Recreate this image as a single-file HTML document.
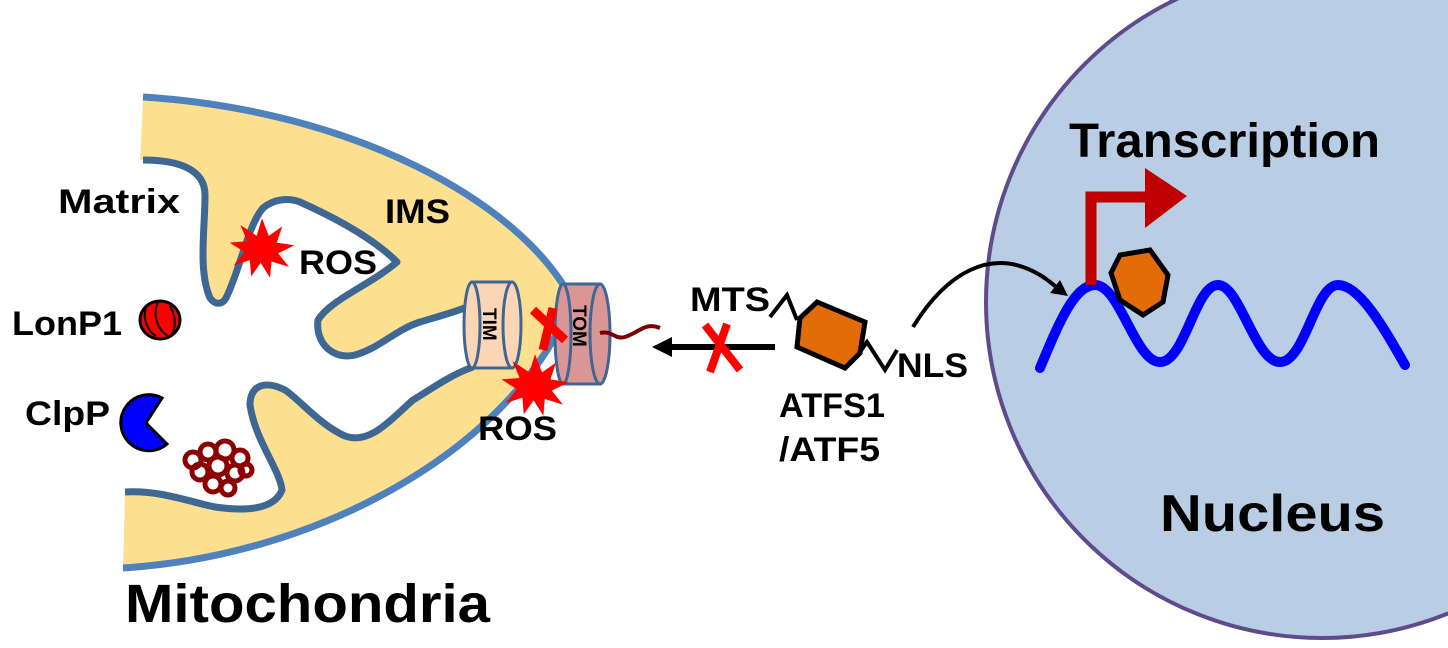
<!DOCTYPE html>
<html><head><meta charset="utf-8"><style>
html,body{margin:0;padding:0;background:#fff;}
svg{display:block;}
text{font-family:"Liberation Sans",Arial,sans-serif;font-weight:bold;fill:#000;}
</style></head><body>
<svg width="1448" height="648" viewBox="0 0 1448 648" xmlns="http://www.w3.org/2000/svg">
<!-- Nucleus -->
<circle cx="1322" cy="302" r="336" fill="#b9cde5" stroke="#5f4b8b" stroke-width="4"/>
<!-- Mitochondria outer -->
<path d="M143,97 C350,110 520,200 572,300 C520,440 330,555 123,568 L125,492 L143,97 Z" fill="#fde08f"/>
<path d="M143,97 C350,110 520,200 572,300 C520,440 330,555 123,568" fill="none" stroke="#4f81bd" stroke-width="7"/>
<!-- matrix (white) region with inner membrane -->
<path d="M120,160 L143,160 C180,160 205,170 205,195 C205,230 198,270 210,298 C215,305 222,305 226,298 C240,270 248,225 263,208 C275,198 290,198 300,202 C340,220 375,240 397,262 C370,285 330,300 318,320 C315,345 335,360 355,355 C380,348 395,330 420,322 C440,316 455,312 467,307 L473,367 C450,375 430,390 413,400 C390,420 370,445 345,436 C320,425 300,400 285,390 C265,380 250,385 250,405 C255,440 280,470 282,490 C275,508 250,512 215,507 C190,502 160,490 125,492 L120,492 Z" fill="#fff"/>
<path d="M143,160 C180,160 205,170 205,195 C205,230 198,270 210,298 C215,305 222,305 226,298 C240,270 248,225 263,208 C275,198 290,198 300,202 C340,220 375,240 397,262 C370,285 330,300 318,320 C315,345 335,360 355,355 C380,348 395,330 420,322 C440,316 455,312 467,307 M473,367 C450,375 430,390 413,400 C390,420 370,445 345,436 C320,425 300,400 285,390 C265,380 250,385 250,405 C255,440 280,470 282,490 C275,508 250,512 215,507 C190,502 160,490 125,492" fill="none" stroke="#3e6794" stroke-width="7" stroke-linejoin="round"/>
<!-- TIM / TOM -->
<g stroke="#3e6794" stroke-width="3">
<path d="M472,282 L512,282 L512,368 L472,368 Z" fill="#fbd5b5"/>
<ellipse cx="472" cy="325" rx="8" ry="43" fill="#fbd5b5"/>
<ellipse cx="512" cy="325" rx="9" ry="43" fill="#fbd5b5"/>
<path d="M563,284 L600,284 L600,384 L563,384 Z" fill="#d99694"/>
<ellipse cx="563" cy="334" rx="8" ry="50" fill="#d99694"/>
<ellipse cx="600" cy="334" rx="10" ry="50" fill="#d99694"/>
</g>
<text transform="translate(483,308) rotate(90)" font-size="19">TIM</text>
<text transform="translate(573,305) rotate(90)" font-size="19">TOM</text>
<path d="M600,333 C612,330 615,340 625,337 C640,332 645,322 660,328" fill="none" stroke="#7f0000" stroke-width="4"/>
<!-- ROS bursts -->
<g fill="#ff0000">
<polygon transform="translate(262,248) scale(1.35)" points="0,-22 5,-9 15,-16 11,-4 24,-2 12,4 20,14 7,10 6,22 -1,11 -8,21 -9,9 -21,13 -13,3 -24,-4 -11,-5 -16,-17 -4,-9"/>
<polygon transform="translate(535,385) scale(1.4)" points="0,-22 5,-9 15,-16 11,-4 24,-2 12,4 20,14 7,10 6,22 -1,11 -8,21 -9,9 -21,13 -13,3 -24,-4 -11,-5 -16,-17 -4,-9"/>
</g>
<path d="M533,310 L565,340 M553,308 L543,350" stroke="#ff0000" stroke-width="9"/>
<!-- labels mito -->
<text x="58" y="213" font-size="34" textLength="122" lengthAdjust="spacingAndGlyphs">Matrix</text>
<text x="385" y="223" font-size="34" textLength="65" lengthAdjust="spacingAndGlyphs">IMS</text>
<text x="299" y="274" font-size="34" textLength="78" lengthAdjust="spacingAndGlyphs">ROS</text>
<text x="478" y="440" font-size="34" textLength="79" lengthAdjust="spacingAndGlyphs">ROS</text>
<text x="12" y="335" font-size="34" textLength="110" lengthAdjust="spacingAndGlyphs">LonP1</text>
<text x="25" y="425" font-size="34" textLength="85" lengthAdjust="spacingAndGlyphs">ClpP</text>
<text x="125" y="622" font-size="54" textLength="365" lengthAdjust="spacingAndGlyphs">Mitochondria</text>
<!-- LonP1 icon -->
<g stroke="#000" stroke-width="3" fill="#ff0000">
<ellipse cx="160" cy="320" rx="20" ry="19"/>
<path d="M146,308 C142,318 148,332 156,336 M158,302 C152,316 158,330 168,336 M170,306 C176,316 176,326 172,334" fill="none" stroke-width="2"/>
</g>
<!-- ClpP pacman -->
<path d="M162,398 A28,28 0 1 0 167,444 L146,423 Z" fill="#0000ff" stroke="#000" stroke-width="3"/>
<!-- aggregate -->
<g fill="none" stroke="#8b0000" stroke-width="5">
<circle cx="193" cy="460" r="8"/><circle cx="208" cy="452" r="8"/><circle cx="225" cy="450" r="9"/><circle cx="240" cy="458" r="8"/>
<circle cx="200" cy="472" r="8"/><circle cx="218" cy="466" r="9"/><circle cx="235" cy="473" r="8"/><circle cx="213" cy="484" r="8"/><circle cx="228" cy="488" r="7"/><circle cx="246" cy="470" r="6"/>
</g>
<!-- blocked arrow -->
<line x1="775" y1="347" x2="668" y2="347" stroke="#000" stroke-width="6"/>
<polygon points="652,347 672,337 672,357" fill="#000"/>
<path d="M705,325 L740,370 M727,324 L710,372" stroke="#ff0000" stroke-width="8"/>
<!-- ATFS1 protein -->
<path d="M770,317 L787,295 L797,320" fill="none" stroke="#000" stroke-width="4"/>
<polygon points="817,302 865,322 860,353 845,368 797,347 800,318" fill="#e36c09" stroke="#000" stroke-width="5"/>
<path d="M860,352 L867,342 L885,370 L897,350" fill="none" stroke="#000" stroke-width="4"/>
<text x="690" y="311" font-size="34" textLength="80" lengthAdjust="spacingAndGlyphs">MTS</text>
<text x="897" y="377" font-size="34" textLength="71" lengthAdjust="spacingAndGlyphs">NLS</text>
<text x="779" y="417" font-size="34" textLength="106" lengthAdjust="spacingAndGlyphs">ATFS1</text>
<text x="779" y="461" font-size="34" textLength="101" lengthAdjust="spacingAndGlyphs">/ATF5</text>
<!-- curved arrow into nucleus -->
<path d="M913,327 C945,275 990,245 1040,275 C1050,281 1056,287 1062,292" fill="none" stroke="#000" stroke-width="4"/>
<polygon points="1068,296 1050,293 1060,280" fill="#000"/>
<!-- DNA -->
<path d="M1040,368 C1060,320 1075,285 1095,285 C1120,285 1135,362 1160,362 C1185,362 1195,285 1218,285 C1240,285 1255,362 1280,362 C1305,362 1315,285 1338,285 C1360,285 1385,330 1405,365" fill="none" stroke="#0000ff" stroke-width="10" stroke-linecap="round"/>
<!-- promoter arrow -->
<path d="M1091,285 L1091,197 L1148,197" fill="none" stroke="#c00000" stroke-width="11"/>
<polygon points="1145,168 1187,196 1145,228" fill="#c00000"/>
<polygon points="1111,273 1120,255 1150,250 1168,275 1163,302 1143,315 1120,300" fill="#e36c09" stroke="#000" stroke-width="5"/>
<text x="1069" y="157" font-size="48" textLength="311" lengthAdjust="spacingAndGlyphs">Transcription</text>
<text x="1160" y="531" font-size="52" textLength="225" lengthAdjust="spacingAndGlyphs">Nucleus</text>
</svg>
</body></html>
